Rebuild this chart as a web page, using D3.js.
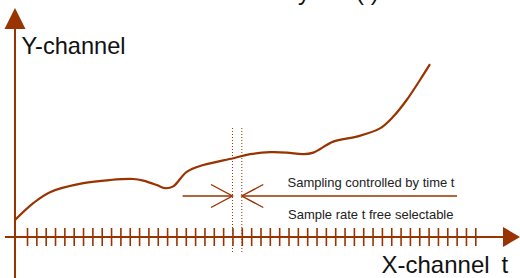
<!DOCTYPE html>
<html>
<head>
<meta charset="utf-8">
<script src="https://cdn.jsdelivr.net/npm/d3@7"></script>
<style>
  html, body { margin: 0; padding: 0; background: #fff; }
  svg { display: block; }
  text { font-family: "Liberation Sans", Arial, sans-serif; }
</style>
</head>
<body>
<script>
'use strict';

var width = 520,
    height = 278,
    rust = "#993300";

// sample ticks on the time axis
var tickIndex = d3.range(0, 49);

// signal y(t) (t in sample steps, value in arbitrary units)
var signalT = [-1.28, 0.67, 2.46, 6.03, 8.89, 11.38, 12.45, 13.89, 14.78, 15.66,
               17.1, 18.88, 22.09, 23.88, 26.02, 27.8, 29.58, 30.65, 32.79, 35.3,
               37.79, 39.22, 40.65, 42.08, 43.15];
var signalV = [8.5, 16.9, 22.4, 26.9, 28.5, 29.0, 28.2, 26.0, 24.4, 25.3,
               32.6, 36.0, 39.4, 41.4, 42.4, 42.2, 41.4, 42.2, 47.7, 50.2,
               54.3, 60.2, 68.5, 78.5, 86.4];

// sample window marked on the chart
var windowStart = 22,
    windowEnd = 23;

var labels = {
  y: "Y-channel",
  x: "X-channel",
  t: "t",
  top: "y = f(t)",
  note1: "Sampling controlled by time t",
  note2: "Sample rate t free selectable"
};

var x = d3.scaleLinear().domain([0, 48]).range([27, 475.3]);
var y = d3.scaleLinear().domain([0, 100]).range([237, 37]);

var svg = d3.select("body").append("svg")
  .attr("width", width)
  .attr("height", height);

var x0 = x(-1.285),   // position of the y axis
    y0 = y(0);

// y axis with arrow head
svg.append("line")
  .attr("x1", x0).attr("x2", x0)
  .attr("y1", 28).attr("y2", height)
  .attr("stroke", rust).attr("stroke-width", 2);
svg.append("path")
  .attr("d", "M" + x0 + ",8 L" + (x0 - 10.5) + ",29 L" + (x0 + 10.5) + ",29 Z")
  .attr("fill", rust);

// x axis with arrow head
svg.append("line")
  .attr("x1", 5).attr("x2", 504)
  .attr("y1", y0).attr("y2", y0)
  .attr("stroke", rust).attr("stroke-width", 2);
svg.append("path")
  .attr("d", "M520," + y0 + " L503," + (y0 - 10) + " L503," + (y0 + 10) + " Z")
  .attr("fill", rust);

// sample ticks
var ticks = svg.append("g")
  .attr("transform", "translate(0," + (y0 - 9) + ")")
  .call(d3.axisBottom(x).tickValues(tickIndex).tickSize(18).tickFormat(""));
ticks.select(".domain").remove();
ticks.selectAll(".tick line")
  .attr("stroke", rust)
  .attr("stroke-width", 1.6);

// dotted window lines
svg.selectAll("line.window")
  .data([windowStart, windowEnd])
  .enter().append("line")
  .attr("class", "window")
  .attr("x1", function(d) { return x(d); })
  .attr("x2", function(d) { return x(d); })
  .attr("y1", 128).attr("y2", 253)
  .attr("stroke", rust)
  .attr("stroke-width", 1)
  .attr("stroke-dasharray", "1,2");

// signal curve
var line = d3.line()
  .x(function(d) { return x(d[0]); })
  .y(function(d) { return y(d[1]); })
  .curve(d3.curveCatmullRom.alpha(0.5));

svg.append("path")
  .datum(d3.zip(signalT, signalV))
  .attr("d", line)
  .attr("fill", "none")
  .attr("stroke", rust)
  .attr("stroke-width", 2.2);

// dimension arrows pointing at the sample window
var dimY = y(20.5),
    headLen = 21.5,
    headHalf = 11.5;
var arrows = svg.append("g")
  .attr("stroke", rust)
  .attr("stroke-width", 1.4)
  .attr("fill", "none");
arrows.append("line")
  .attr("x1", x(16.66)).attr("x2", x(windowStart))
  .attr("y1", dimY).attr("y2", dimY);
arrows.append("polyline")
  .attr("points", [
    [x(windowStart) - headLen, dimY - headHalf],
    [x(windowStart), dimY],
    [x(windowStart) - headLen, dimY + headHalf]
  ].join(" "));
arrows.append("line")
  .attr("x1", x(windowEnd)).attr("x2", x(46.05))
  .attr("y1", dimY).attr("y2", dimY);
arrows.append("polyline")
  .attr("points", [
    [x(windowEnd) + headLen, dimY - headHalf],
    [x(windowEnd), dimY],
    [x(windowEnd) + headLen, dimY + headHalf]
  ].join(" "));

// texts
svg.append("text")
  .attr("x", 21.5).attr("y", 54)
  .style("font-size", "23.6px")
  .attr("fill", "#111")
  .text(labels.y);

var xl = svg.append("text")
  .attr("y", 272.5)
  .style("font-size", "24px")
  .attr("fill", "#111");
xl.append("tspan").attr("x", 381.5).text(labels.x);
xl.append("tspan").attr("x", 501.5).text(labels.t);

svg.append("text")
  .attr("x", 298).attr("y", -0.5)
  .style("font-size", "24px")
  .style("word-spacing", "6px")
  .attr("fill", "#111")
  .text(labels.top);

svg.append("text")
  .attr("x", 287.5).attr("y", 187)
  .style("font-size", "13px")
  .attr("fill", "#222")
  .text(labels.note1);

svg.append("text")
  .attr("x", 288).attr("y", 218.5)
  .style("font-size", "13px")
  .attr("fill", "#222")
  .text(labels.note2);
</script>
</body>
</html>
